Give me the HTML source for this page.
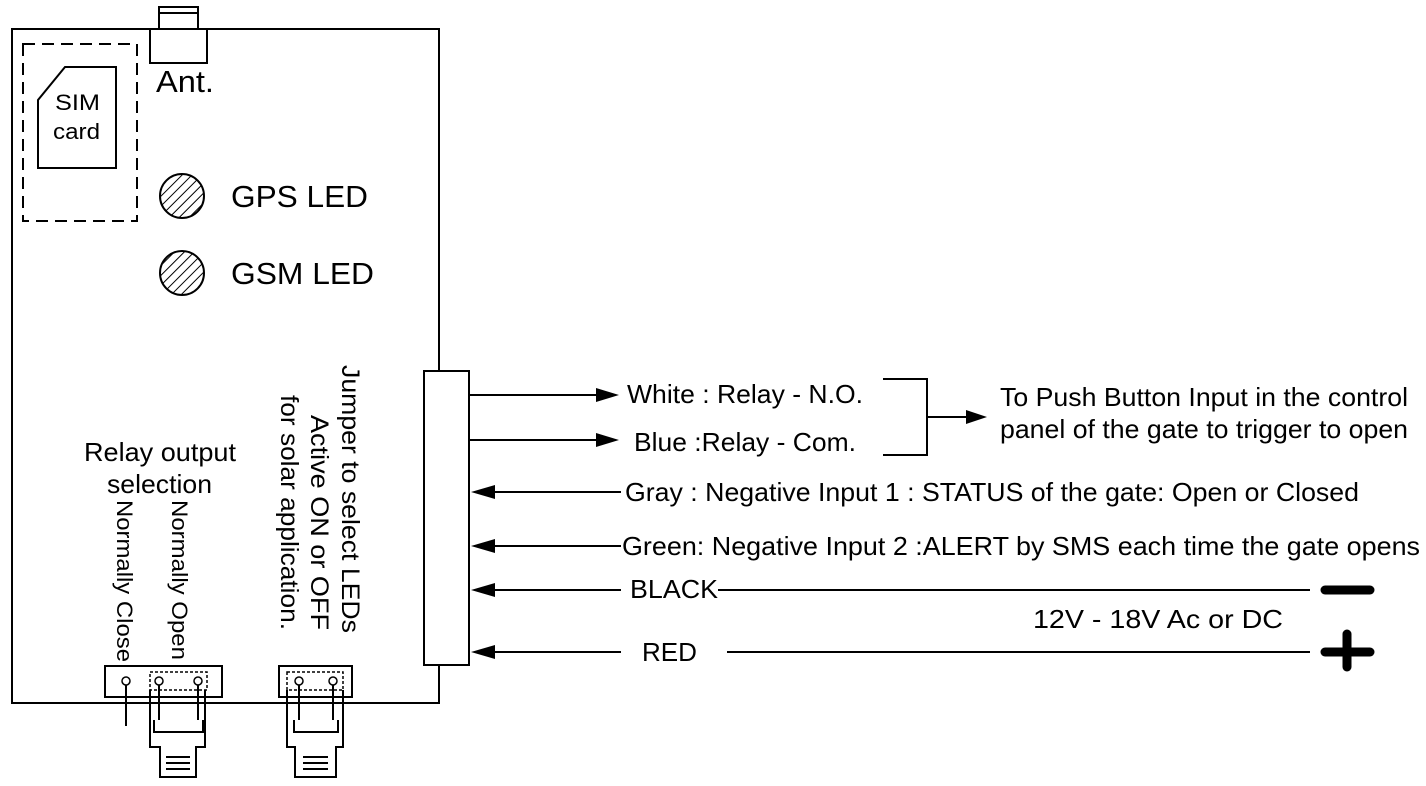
<!DOCTYPE html>
<html><head><meta charset="utf-8"><style>
html,body{margin:0;padding:0;background:#fff;}
svg{display:block;}
text{font-family:"Liberation Sans",Arial,sans-serif;fill:#000;}
</style></head><body>
<svg width="1426" height="786" viewBox="0 0 1426 786" xmlns="http://www.w3.org/2000/svg">
<defs>
<pattern id="hatch" width="7" height="7" patternUnits="userSpaceOnUse" patternTransform="rotate(45)">
<rect width="7" height="7" fill="#fff"/><line x1="0" y1="0" x2="0" y2="7" stroke="#000" stroke-width="2"/>
</pattern>
</defs>
<g fill="none" stroke="#000" stroke-width="2">
<rect x="12" y="29" width="427" height="674"/>
<rect x="159" y="7" width="39" height="22" fill="#fff"/>
<line x1="159" y1="13" x2="198" y2="13"/>
<rect x="150" y="29" width="57" height="34" fill="#fff"/>
<rect x="23" y="44" width="114" height="177" stroke-dasharray="12,7"/>
<path d="M65 67 H116 V168 H38 V100 Z"/>
<circle cx="182" cy="196" r="22" fill="url(#hatch)"/>
<circle cx="182" cy="273" r="22" fill="url(#hatch)"/>
<rect x="424" y="371" width="45" height="294" fill="#fff"/>
<rect x="105" y="666" width="117" height="31"/>
<rect x="150" y="672" width="57" height="18" stroke-dasharray="3,2" stroke-width="1.5"/>
<line x1="126" y1="685" x2="126" y2="726"/>
<path d="M150 690 V747 H160 V777 H196 V747 H205 V690"/>
<path d="M159 685 V720 M198 685 V720 M154 720 V732 H203 V720"/>
<line x1="166" y1="757" x2="190" y2="757"/><line x1="166" y1="763" x2="190" y2="763"/><line x1="166" y1="769" x2="190" y2="769"/>
<rect x="279" y="666" width="73" height="31"/>
<rect x="287" y="672" width="56" height="18" stroke-dasharray="3,2" stroke-width="1.5"/>
<path d="M287 690 V747 H295 V777 H336 V747 H343 V690"/>
<path d="M299 685 V720 M333 685 V720 M294 720 V732 H338 V720"/>
<line x1="303" y1="757" x2="328" y2="757"/><line x1="303" y1="763" x2="328" y2="763"/><line x1="303" y1="769" x2="328" y2="769"/>
<line x1="469" y1="395" x2="600" y2="395"/>
<line x1="469" y1="440" x2="600" y2="440"/>
<line x1="490" y1="492" x2="621" y2="492"/>
<line x1="490" y1="546" x2="621" y2="546"/>
<line x1="490" y1="590" x2="621" y2="590"/>
<line x1="718" y1="590" x2="1310" y2="590"/>
<line x1="490" y1="652" x2="621" y2="652"/>
<line x1="727" y1="652" x2="1310" y2="652"/>
<path d="M883 379 H927 V455 H883"/>
<line x1="927" y1="417" x2="970" y2="417"/>
</g>
<g fill="#fff" stroke="#000" stroke-width="1.5">
<circle cx="126" cy="681" r="4"/><circle cx="159" cy="681" r="4"/><circle cx="198" cy="681" r="4"/>
<circle cx="299" cy="681" r="4"/><circle cx="333" cy="681" r="4"/>
</g>
<g fill="#000">
<polygon points="596,388 619,395 596,402"/>
<polygon points="596,433 619,440 596,447"/>
<polygon points="495,485 471,492 495,499"/>
<polygon points="495,539 471,546 495,553"/>
<polygon points="495,583 471,590 495,597"/>
<polygon points="495,645 471,652 495,659"/>
<polygon points="966,410 987,417 966,424"/>
</g>
<g stroke="#000" stroke-width="9" stroke-linecap="round">
<line x1="1325" y1="590" x2="1370" y2="590"/>
<line x1="1325" y1="652" x2="1370" y2="652"/>
<line x1="1347" y1="634" x2="1347" y2="667"/>
</g>
<text x="156" y="92" font-size="31" textLength="58" lengthAdjust="spacingAndGlyphs">Ant.</text>
<text x="55" y="110" font-size="22" textLength="45" lengthAdjust="spacingAndGlyphs">SIM</text>
<text x="53" y="139" font-size="22" textLength="47" lengthAdjust="spacingAndGlyphs">card</text>
<text x="231" y="207" font-size="31" textLength="137" lengthAdjust="spacingAndGlyphs">GPS LED</text>
<text x="231" y="284" font-size="31" textLength="143" lengthAdjust="spacingAndGlyphs">GSM LED</text>
<text x="84" y="461" font-size="26" textLength="152" lengthAdjust="spacingAndGlyphs">Relay output</text>
<text x="107" y="493" font-size="26" textLength="105" lengthAdjust="spacingAndGlyphs">selection</text>
<text transform="translate(117,500) rotate(90)" font-size="22" textLength="162" lengthAdjust="spacingAndGlyphs">Normally Close</text>
<text transform="translate(172,500) rotate(90)" font-size="22" textLength="160" lengthAdjust="spacingAndGlyphs">Normally Open</text>
<text transform="translate(342,365) rotate(90)" font-size="25" textLength="268" lengthAdjust="spacingAndGlyphs">Jumper to select LEDs</text>
<text transform="translate(311,415) rotate(90)" font-size="25" textLength="215" lengthAdjust="spacingAndGlyphs">Active ON  or OFF</text>
<text transform="translate(281,395) rotate(90)" font-size="25" textLength="235" lengthAdjust="spacingAndGlyphs">for solar application.</text>
<text x="627" y="403" font-size="26" textLength="236" lengthAdjust="spacingAndGlyphs">White : Relay - N.O.</text>
<text x="634" y="451" font-size="26" textLength="222" lengthAdjust="spacingAndGlyphs">Blue :Relay - Com.</text>
<text x="625" y="501" font-size="26" textLength="734" lengthAdjust="spacingAndGlyphs">Gray : Negative Input 1 : STATUS of the gate: Open or Closed</text>
<text x="622" y="555" font-size="26" textLength="798" lengthAdjust="spacingAndGlyphs">Green: Negative Input 2 :ALERT  by SMS each time the gate opens</text>
<text x="630" y="598" font-size="26" textLength="88" lengthAdjust="spacingAndGlyphs">BLACK</text>
<text x="642" y="661" font-size="26" textLength="55" lengthAdjust="spacingAndGlyphs">RED</text>
<text x="1033" y="628" font-size="26" textLength="250" lengthAdjust="spacingAndGlyphs">12V -  18V  Ac or DC</text>
<text x="1000" y="406" font-size="26" textLength="408" lengthAdjust="spacingAndGlyphs">To Push Button Input in the control</text>
<text x="1000" y="438" font-size="26" textLength="408" lengthAdjust="spacingAndGlyphs">panel of the gate to trigger to open</text>
</svg>
</body></html>
